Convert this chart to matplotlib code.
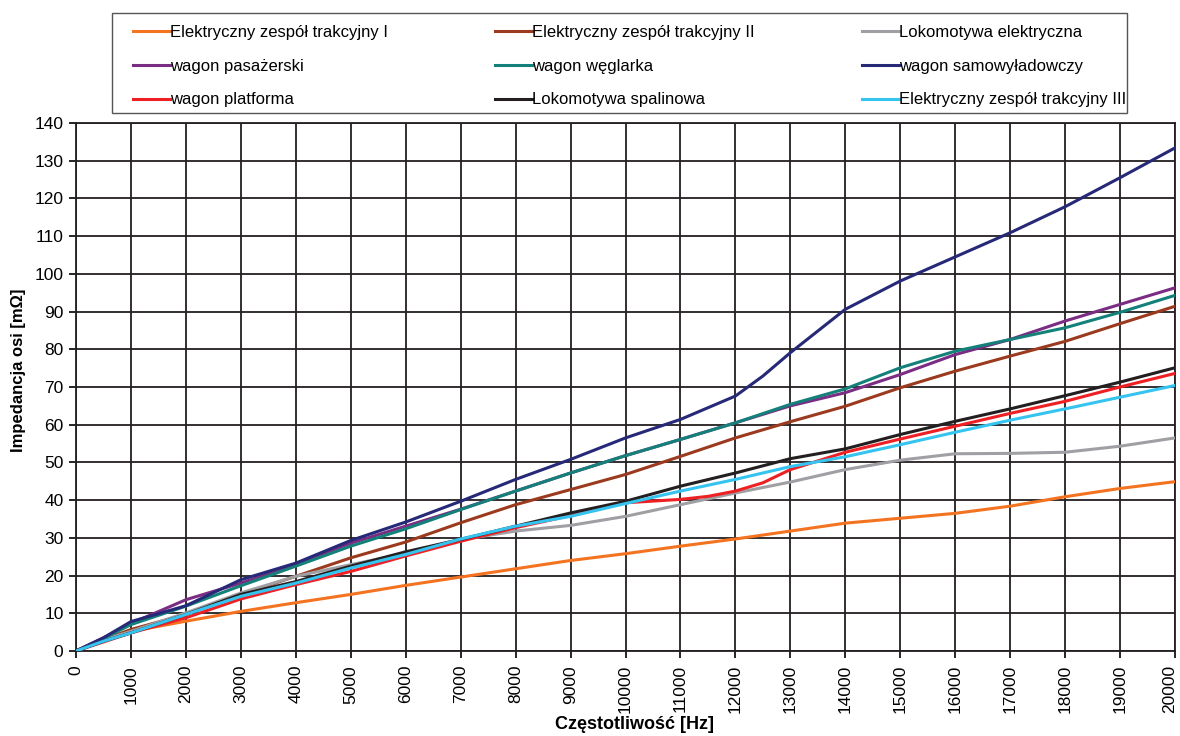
import numpy as np
import matplotlib
matplotlib.use("Agg")
import matplotlib.pyplot as plt
from matplotlib import patches
from matplotlib.transforms import ScaledTranslation

plt.rcParams['font.family'] = ['Liberation Sans', 'DejaVu Sans']

freq = [0, 500, 1000, 2000, 3000, 4000, 5000, 6000, 7000, 8000, 9000, 10000,
        11000, 12000, 13000, 14000, 15000, 16000, 17000, 18000, 19000, 20000]

ezt1 = [0, 2.8, 5.2, 7.9, 10.5, 12.8, 15.0, 17.4, 19.6, 21.8, 24.0, 25.8,
        27.8, 29.7, 31.8, 33.9, 35.2, 36.5, 38.4, 40.9, 43.1, 44.9]
ezt2 = [0, 3.0, 5.7, 9.7, 15.0, 19.8, 24.7, 28.9, 34.0, 38.8, 42.8, 46.8,
        51.6, 56.5, 60.8, 64.9, 69.8, 74.2, 78.2, 82.1, 86.8, 91.4]
lok_el = [0, 3.0, 5.2, 10.1, 15.4, 19.8, 22.9, 25.9, 29.5, 31.8, 33.3, 35.7,
          38.8, 41.9, 44.8, 48.1, 50.6, 52.3, 52.4, 52.7, 54.3, 56.5]
pasazerski = [0, 3.5, 7.3, 13.6, 18.0, 23.0, 28.6, 33.1, 37.6, 42.4, 47.2, 51.8,
              56.1, 60.5, 65.0, 68.5, 73.3, 78.6, 82.6, 87.5, 91.9, 96.3]
weglarka = [0, 3.3, 7.0, 11.9, 17.3, 22.5, 27.8, 32.4, 37.5, 42.4, 47.2, 51.8,
            56.1, 60.5, 65.4, 69.5, 75.1, 79.5, 82.6, 85.7, 89.8, 94.3]
lok_sp = [0, 2.6, 4.8, 9.7, 15.0, 18.4, 22.5, 26.3, 29.6, 33.1, 36.6, 39.7,
          43.7, 47.2, 51.0, 53.6, 57.4, 60.9, 64.2, 67.7, 71.3, 75.1]
ezt3 = [0, 2.6, 4.8, 9.7, 14.5, 18.0, 22.0, 25.6, 29.7, 33.1, 35.7, 39.1,
        42.4, 45.5, 48.9, 51.5, 54.7, 58.0, 61.2, 64.2, 67.3, 70.4]

# these two have a bend around 12 kHz, so they carry extra points
freq_samo = [0, 500, 1000, 2000, 3000, 4000, 5000, 6000, 7000, 8000, 9000, 10000,
             11000, 12000, 12500, 13000, 14000, 15000, 16000, 17000, 18000, 19000, 20000]
samowyl = [0, 3.5, 7.8, 12.0, 18.9, 23.3, 29.3, 34.2, 39.7, 45.5, 50.8, 56.5,
           61.4, 67.6, 72.9, 79.1, 90.6, 98.1, 104.5, 110.9, 117.8, 125.5, 133.4]
freq_plat = [0, 500, 1000, 2000, 3000, 4000, 5000, 6000, 7000, 8000, 9000, 10000,
             11000, 11500, 12000, 12500, 13000, 14000, 15000, 16000, 17000, 18000, 19000, 20000]
platforma = [0, 2.4, 4.8, 8.8, 13.8, 17.6, 21.1, 25.2, 29.1, 32.7, 35.9, 39.3,
             40.2, 41.0, 42.4, 44.6, 48.1, 52.7, 56.2, 59.6, 63.0, 66.2, 70.0, 73.6]

series = [
    ("Elektryczny zespół trakcyjny I", freq, ezt1, "#F47321"),
    ("Elektryczny zespół trakcyjny II", freq, ezt2, "#9B3A1F"),
    ("Lokomotywa elektryczna", freq, lok_el, "#A0A0A4"),
    ("wagon pasażerski", freq, pasazerski, "#7B2C83"),
    ("wagon węglarka", freq, weglarka, "#14807A"),
    ("wagon samowyładowczy", freq_samo, samowyl, "#262878"),
    ("wagon platforma", freq_plat, platforma, "#EE2024"),
    ("Lokomotywa spalinowa", freq, lok_sp, "#231F20"),
    ("Elektryczny zespół trakcyjny III", freq, ezt3, "#35C3F0"),
]

W, H = 1180, 736
fig = plt.figure(figsize=(W / 100, H / 100), dpi=100)
ax = fig.add_axes([76 / W, 1 - 651 / H, 1099 / W, 528 / H])

handles = {}
for name, x, y, c in series:
    h, = ax.plot(x, y, color=c, lw=2.2, label=name, zorder=3)
    handles[name] = h

ax.set_xlim(0, 20000)
ax.set_ylim(0, 140)
ax.set_xticks(np.arange(0, 20001, 1000))
ax.set_yticks(np.arange(0, 141, 10))
ax.tick_params(axis='x', labelrotation=90, labelsize=12.5, length=5, width=1.2,
               direction='out', pad=5)
ax.tick_params(axis='y', labelsize=12.5, length=5, width=1.2, direction='out', pad=4)
ax.grid(True, color='#231F20', lw=1.3, zorder=1)
for s in ax.spines.values():
    s.set_color('#231F20')
    s.set_linewidth(1.3)

# nudge the last frequency label so it stays inside the figure
last = ax.get_xticklabels()[-1]
last.set_transform(last.get_transform() + ScaledTranslation(-5 / 100, 0, fig.dpi_scale_trans))

ax.set_xlabel("Częstotliwość [Hz]", fontsize=13, fontweight='bold')
ax.set_ylabel("Impedancja osi [mΩ]", fontsize=12, fontweight='bold')
ax.xaxis.set_label_coords(0.508, -0.123)
ax.yaxis.set_label_coords(-0.0455, 0.532)

# legend frame drawn separately so the side padding can differ from the top
frame = patches.Rectangle((112 / W, 1 - 113 / H), 1015 / W, 100 / H,
                          transform=fig.transFigure, fill=False,
                          edgecolor='#555555', lw=1.0)
fig.add_artist(frame)

# legend is filled column by column, so order the entries to read row by row
names = [s[0] for s in series]
order = [0, 3, 6, 1, 4, 7, 2, 5, 8]
leg = fig.legend([handles[names[i]] for i in order], [names[i] for i in order],
                 ncol=3, loc='center left',
                 bbox_to_anchor=(133 / W, 1 - 116 / H, 993 / W, 100 / H),
                 mode='expand', fontsize=12, frameon=False,
                 handlelength=2.2, handletextpad=0.0,
                 borderaxespad=0, borderpad=0, labelspacing=1.13)

fig.savefig("out.png", dpi=100)
